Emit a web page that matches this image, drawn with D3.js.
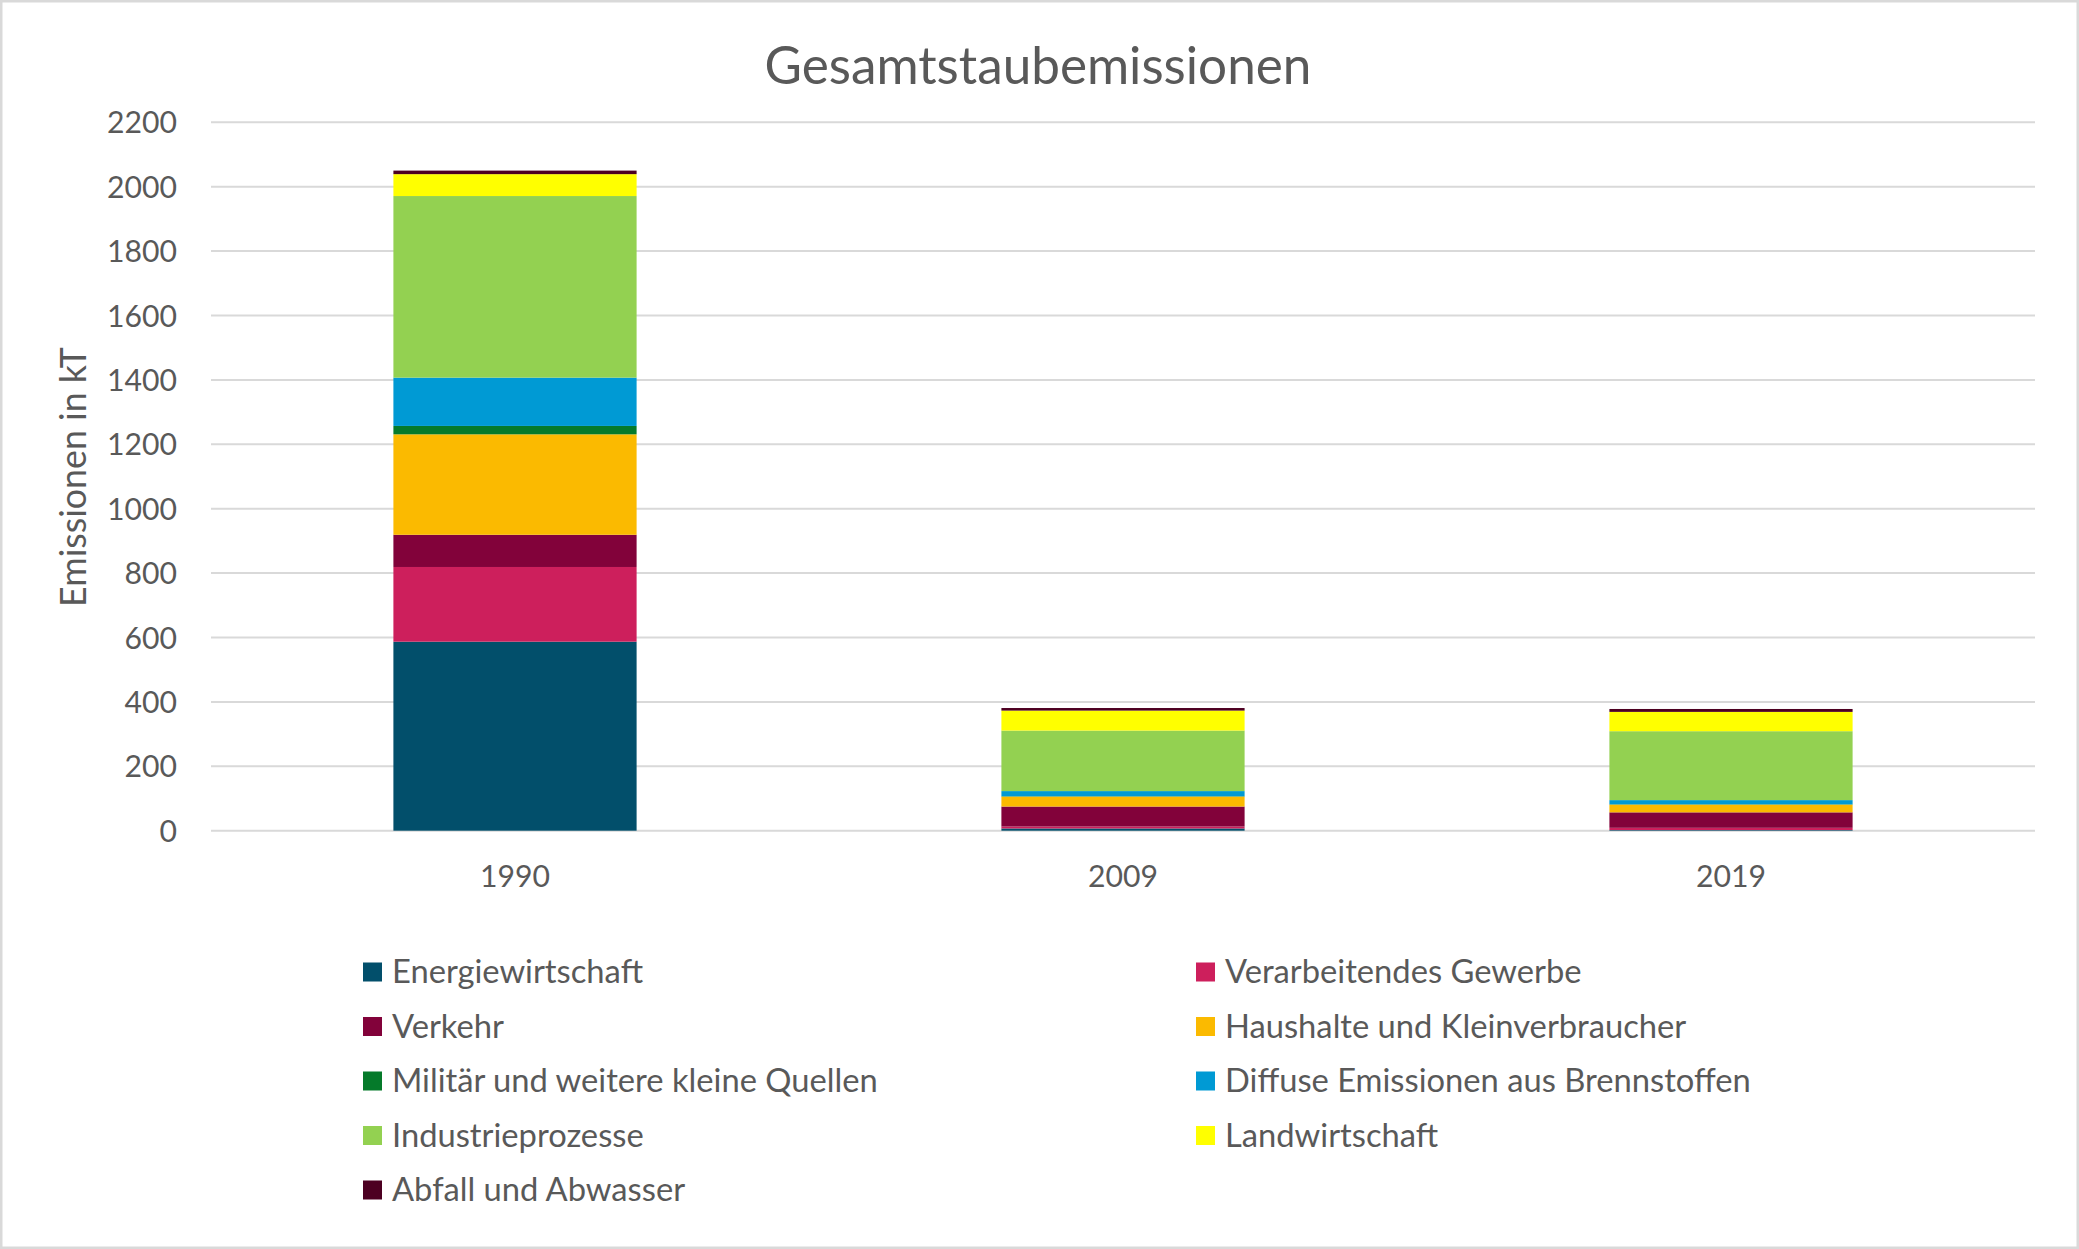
<!DOCTYPE html>
<html>
<head>
<meta charset="utf-8">
<script src="https://cdn.jsdelivr.net/npm/d3@7"></script>
<style>
  html, body { margin: 0; padding: 0; background: #ffffff; }
  svg { display: block; }
  text { font-family: Lato, "Open Sans", sans-serif; fill: #595959; }
</style>
</head>
<body>
<svg id="chart" width="2079" height="1249"></svg>
<script>
// ---- Data ----
const years = ["1990", "2009", "2019"];
const sectors = [
  "Energiewirtschaft",
  "Verarbeitendes Gewerbe",
  "Verkehr",
  "Haushalte und Kleinverbraucher",
  "Militär und weitere kleine Quellen",
  "Diffuse Emissionen aus Brennstoffen",
  "Industrieprozesse",
  "Landwirtschaft",
  "Abfall und Abwasser"
];
const energiewirtschaft     = [587,   7,   2];
const verarbeitendesGewerbe = [232,   6,   7];
const verkehr               = [100,  62,  48];
const haushalte             = [312,  31,  24];
const militaer              = [ 26,   1,   1];
const diffuseEmissionen     = [150,  16,  13];
const industrieprozesse     = [564, 188, 214];
const landwirtschaft        = [ 68,  62,  60];
const abfall                = [ 11,   8,   9];
const yTicks = [0, 200, 400, 600, 800, 1000, 1200, 1400, 1600, 1800, 2000, 2200];
const colors = ["#024f6b", "#cd1f5c", "#82023a", "#fbba00", "#057a2a", "#009ad4", "#93d151", "#ffff00", "#4d0022"];
const chartTitle = "Gesamtstaubemissionen";
const yTitle = "Emissionen in kT";

const seriesValues = [energiewirtschaft, verarbeitendesGewerbe, verkehr, haushalte, militaer,
                      diffuseEmissionen, industrieprozesse, landwirtschaft, abfall];

// table for d3.stack
const table = years.map((y, i) => {
  const row = { year: y };
  sectors.forEach((s, k) => { row[s] = seriesValues[k][i]; });
  return row;
});

const svg = d3.select("#chart");
const W = 2079, H = 1249;

// border
svg.append("rect").attr("x", 1.25).attr("y", 1.25).attr("width", W - 2.5).attr("height", H - 2.5)
  .attr("fill", "#ffffff").attr("stroke", "#d9d9d9").attr("stroke-width", 2.5);

const plot = { left: 211, right: 2035, top: 122.3, bottom: 830.7 };

const x = d3.scaleBand().domain(years).range([plot.left, plot.right]).paddingInner(0.6).paddingOuter(0.3);
const y = d3.scaleLinear().domain([0, 2200]).range([plot.bottom, plot.top]);

function fit(sel, target) {
  const base = 20;
  sel.style("font-size", base + "px");
  const w = sel.node().getComputedTextLength();
  return base * target / w;
}

// gridlines
svg.append("g").selectAll("line").data(yTicks).join("line")
  .attr("x1", plot.left).attr("x2", plot.right)
  .attr("y1", d => y(d)).attr("y2", d => y(d))
  .attr("stroke", "#d9d9d9").attr("stroke-width", 2);

// y axis labels via d3 axis
const yAxis = d3.axisLeft(y).tickValues(yTicks).tickSize(0).tickPadding(0).tickFormat(d3.format("d"));
const yg = svg.append("g").attr("transform", `translate(177,0)`).call(yAxis);
yg.select(".domain").remove();
yg.selectAll("text").attr("fill", "#595959").style("fill", "#595959").attr("font-family", null);
const tickSize = fit(yg.selectAll("text").filter(d => d === 2200), 70);
yg.selectAll("text").style("font-size", tickSize + "px").attr("dy", "0.35em");

// bars
const stack = d3.stack().keys(sectors);
const stacked = stack(table);
svg.append("g").selectAll("g").data(stacked).join("g")
  .attr("fill", (d, i) => colors[i])
  .selectAll("rect").data(d => d).join("rect")
  .attr("x", d => x(d.data.year))
  .attr("width", x.bandwidth())
  .attr("y", d => y(d[1]))
  .attr("height", d => y(d[0]) - y(d[1]));

// x axis labels
const xAxis = d3.axisBottom(x).tickSize(0).tickPadding(0);
const xg = svg.append("g").attr("transform", `translate(0,876)`).call(xAxis);
xg.select(".domain").remove();
xg.selectAll("text").attr("dy", "0.35em").attr("y", 0).style("fill", "#595959").attr("font-family", null)
  .style("font-size", tickSize + "px");

// title
const t = svg.append("text").attr("x", 1038).attr("y", 66).attr("text-anchor", "middle")
  .attr("dy", "0.35em").text(chartTitle);
t.style("font-size", fit(t, 547) + "px");

// y title
const yt = svg.append("text").attr("transform", "translate(73,477) rotate(-90)")
  .attr("text-anchor", "middle").attr("dy", "0.35em").text(yTitle);
yt.style("font-size", fit(yt, 260) + "px");

// legend
const legendCols = [363, 1196];
const legendRows = [972, 1026.5, 1081, 1135.5, 1190];
const lg = svg.append("g");
const items = lg.selectAll("g").data(sectors).join("g")
  .attr("transform", (d, i) => `translate(${legendCols[i % 2]},${legendRows[Math.floor(i / 2)]})`);
items.append("rect").attr("x", 0).attr("y", -9.5).attr("width", 19).attr("height", 19)
  .attr("fill", (d, i) => colors[i]);
const ltexts = items.append("text").attr("x", 29).attr("dy", "0.35em").text(d => d);
const legSize = fit(ltexts.filter(d => d === "Diffuse Emissionen aus Brennstoffen"), 526);
ltexts.style("font-size", legSize + "px");
</script>
</body>
</html>
